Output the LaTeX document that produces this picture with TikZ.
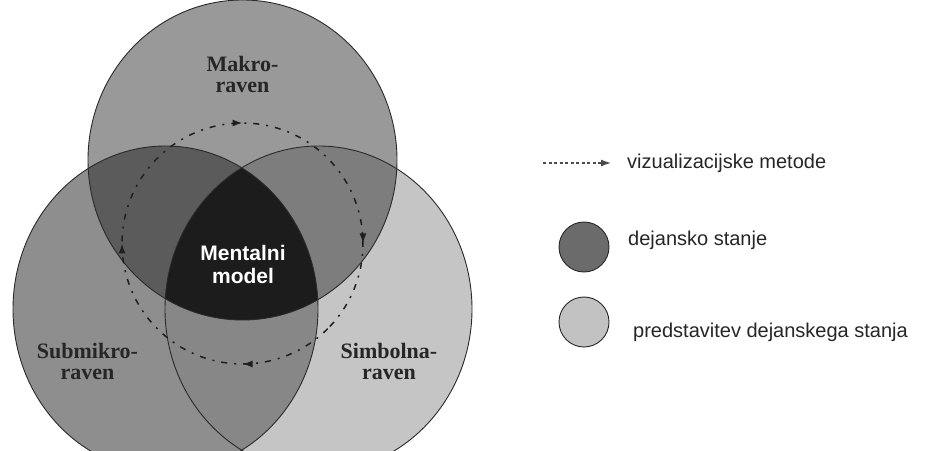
\documentclass[tikz,border=0pt]{standalone}
\usepackage{fontspec}
\setmainfont{Liberation Serif}
\newfontfamily\sansf{Liberation Sans}
\usetikzlibrary{arrows.meta,decorations.markings}
\definecolor{topc}{HTML}{999999}
\definecolor{leftc}{HTML}{8E8E8E}
\definecolor{rightc}{HTML}{C5C5C5}
\definecolor{tlc}{HTML}{5B5B5B}
\definecolor{trc}{HTML}{7D7D7D}
\definecolor{lrc}{HTML}{878787}
\definecolor{cenc}{HTML}{1C1C1C}
\definecolor{edgec}{HTML}{2A2A2A}
\definecolor{darkleg}{HTML}{6B6B6B}
\definecolor{lightleg}{HTML}{C2C2C2}
\tikzset{
  edge/.style={draw=edgec, line width=0.9pt},
  lvl/.style={font=\fontsize{22}{21}\selectfont\bfseries, align=center, text=black!85, inner sep=0pt},
  cyc/.style={draw=black!88, line width=1.5pt, dash pattern=on 6pt off 7pt on 2pt off 7pt},
  legtxt/.style={font=\sansf\fontsize{20}{22}\selectfont, text=black!85, inner sep=0pt, anchor=base west},
  legcirc/.style={draw=black!85, line width=0.9pt, circle, minimum size=50pt, inner sep=0pt},
}
\begin{document}
\begin{tikzpicture}[x=1pt,y=1pt]
\clip (0,0) rectangle (926,450);
\fill[white] (0,0) rectangle (926,450);
% base fills
\fill[topc] (242.5,290) ellipse [x radius=154.5, y radius=160];
\fill[leftc] (165.5,141) ellipse [x radius=152.5, y radius=163];
\fill[rightc] (318.5,141) ellipse [x radius=153.5, y radius=163];
% overlaps
\begin{scope}
  \clip (242.5,290) ellipse [x radius=154.5, y radius=160];
  \fill[tlc] (165.5,141) ellipse [x radius=152.5, y radius=163];
  \fill[trc] (318.5,141) ellipse [x radius=153.5, y radius=163];
\end{scope}
\begin{scope}
  \clip (165.5,141) ellipse [x radius=152.5, y radius=163];
  \fill[lrc] (318.5,141) ellipse [x radius=153.5, y radius=163];
  \clip (242.5,290) ellipse [x radius=154.5, y radius=160];
  \fill[cenc] (318.5,141) ellipse [x radius=153.5, y radius=163];
\end{scope}
% outlines
\draw[edge] (242.5,290) ellipse [x radius=154.5, y radius=160];
\draw[edge] (165.5,141) ellipse [x radius=152.5, y radius=163];
\draw[edge] (318.5,141) ellipse [x radius=153.5, y radius=163];
% cycle of visualization methods
\coordinate (cyc0) at ({242.5+120.5*cos(-45)},{206.5+120.5*sin(-45)});
\draw[cyc, postaction={decorate}, decoration={markings,
    mark=at position 0.125 with {\arrow[black!88]{Latex[length=10pt,width=7pt]}},
    mark=at position 0.375 with {\arrow[black!88]{Latex[length=10pt,width=7pt]}},
    mark=at position 0.625 with {\arrow[black!88]{Latex[length=10pt,width=7pt]}},
    mark=at position 0.875 with {\arrow[black!88]{Latex[length=10pt,width=7pt]}}}]
  (cyc0) arc [start angle=-45, end angle=-405, radius=120.5];
% labels
\node[lvl] (makro) at (242.5,376) {Makro-\\raven};
\node[lvl] (submikro) at (87.5,89) {Submikro-\\raven};
\node[lvl] (simbolna) at (389,89) {Simbolna-\\raven};
\node[font=\sansf\fontsize{21}{23}\selectfont\bfseries, align=center, text=white, inner sep=0pt] (mm) at (243,186) {Mentalni\\model};
% legend
\coordinate (la) at (543,287);
\coordinate (lb) at (611,287);
\draw[draw=black!70, line width=1.3pt, dash pattern=on 3pt off 2.5pt, -{Latex[length=10pt,width=7pt]}] (la) -- (lb);
\node[legtxt] (t1) at (627,281) {vizualizacijske metode};
\node[legcirc, fill=darkleg] (c1) at (584,203) {};
\node[legtxt] (t2) at (628,204) {dejansko stanje};
\node[legcirc, fill=lightleg] (c2) at (584,128) {};
\node[legtxt] (t3) at (633,113) {predstavitev dejanskega stanja};
\end{tikzpicture}
\end{document}
